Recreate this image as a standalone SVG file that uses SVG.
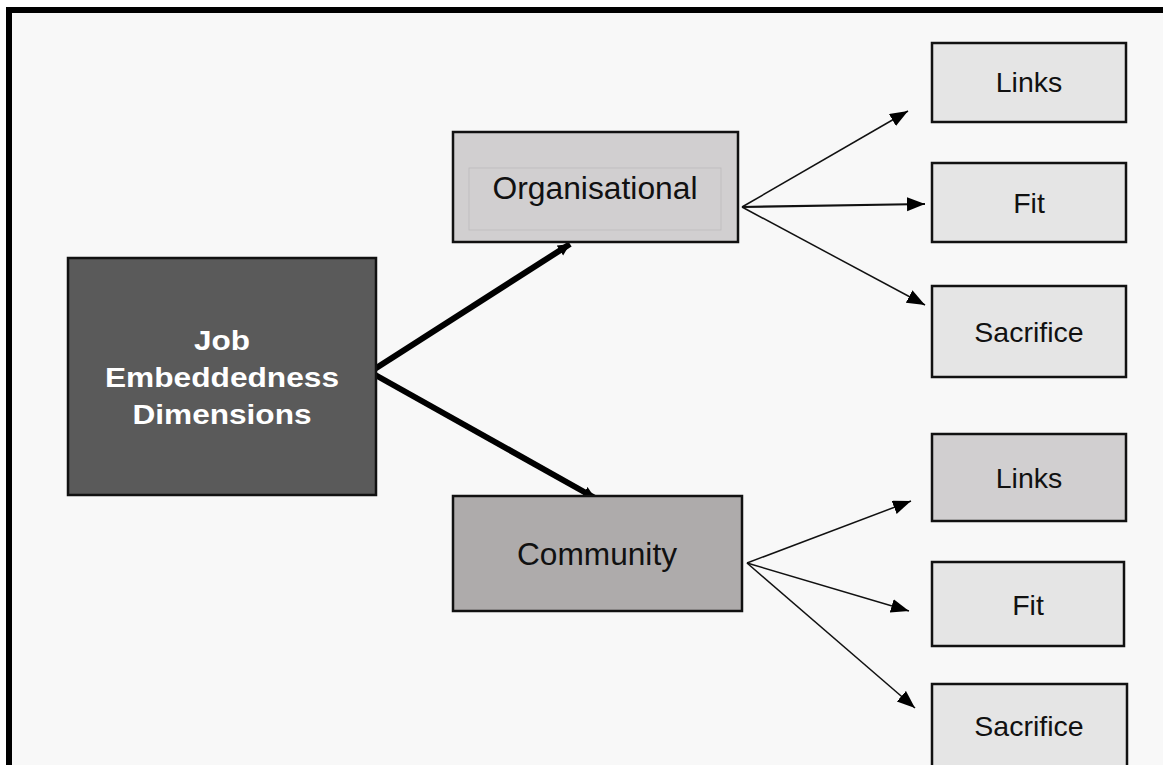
<svg xmlns="http://www.w3.org/2000/svg" width="1163" height="765" viewBox="0 0 1163 765">
<style>
.box{stroke:#111;stroke-width:2.5}
.lbl{font-family:"Liberation Sans",Arial,sans-serif;fill:#111;text-anchor:middle}
.thin{stroke:#111;stroke-width:1.5;fill:none}
.thick{stroke:#000;stroke-width:6;fill:none}
</style>
<defs>
<marker id="ah" markerUnits="userSpaceOnUse" markerWidth="20" markerHeight="16" refX="18" refY="7" orient="auto">
<path d="M0,0 L18,7 L0,14 Z" fill="#000"/>
</marker>
<marker id="ahb" markerUnits="userSpaceOnUse" markerWidth="14" markerHeight="14" refX="12" refY="6" orient="auto">
<path d="M0,0 L12,6 L0,12 Z" fill="#000"/>
</marker>
</defs>
<rect x="0" y="0" width="1163" height="765" fill="#ffffff"/>
<rect x="9" y="10" width="1170" height="770" fill="#f8f8f8" stroke="#000" stroke-width="6"/>

<g id="connectors">
<line class="thick" x1="370" y1="372" x2="570" y2="244" marker-end="url(#ahb)"/>
<line class="thick" x1="370" y1="372" x2="595" y2="498" marker-end="url(#ahb)"/>
<line class="thin" x1="742" y1="207" x2="908" y2="111" marker-end="url(#ah)"/>
<line class="thin" x1="742" y1="207" x2="925" y2="204" marker-end="url(#ah)" style="stroke-width:2.2"/>
<line class="thin" x1="742" y1="207" x2="925" y2="305" marker-end="url(#ah)"/>
<line class="thin" x1="747" y1="563" x2="911" y2="501" marker-end="url(#ah)"/>
<line class="thin" x1="747" y1="563" x2="909" y2="611" marker-end="url(#ah)"/>
<line class="thin" x1="747" y1="563" x2="915" y2="708" marker-end="url(#ah)"/>
</g>

<g id="job-embeddedness">
<rect class="box" x="68" y="258" width="308" height="237" fill="#5a5a5a"/>
<text class="lbl" x="222" y="350" font-size="28" font-weight="bold" style="fill:#fff" textLength="56" lengthAdjust="spacingAndGlyphs">Job</text>
<text class="lbl" x="222" y="387" font-size="28" font-weight="bold" style="fill:#fff" textLength="234" lengthAdjust="spacingAndGlyphs">Embeddedness</text>
<text class="lbl" x="222" y="424" font-size="28" font-weight="bold" style="fill:#fff" textLength="179" lengthAdjust="spacingAndGlyphs">Dimensions</text>
</g>

<g id="organisational">
<rect class="box" x="453" y="132" width="285" height="110" fill="#d1cfd0"/>
<rect x="469" y="168" width="252" height="62" fill="none" stroke="#bdbbbc" stroke-width="0.8"/>
<text class="lbl" x="595" y="199" font-size="31" textLength="205" lengthAdjust="spacingAndGlyphs">Organisational</text>
</g>

<g id="community">
<rect class="box" x="453" y="496" width="289" height="115" fill="#aeabab"/>
<text class="lbl" x="597" y="565" font-size="31" textLength="160" lengthAdjust="spacingAndGlyphs">Community</text>
</g>

<g id="org-links">
<rect class="box" x="932" y="43" width="194" height="79" fill="#e5e5e5"/>
<text class="lbl" x="1029" y="92" font-size="28.5">Links</text>
</g>
<g id="org-fit">
<rect class="box" x="932" y="163" width="194" height="79" fill="#e5e5e5"/>
<text class="lbl" x="1029" y="213" font-size="28.5">Fit</text>
</g>
<g id="org-sacrifice">
<rect class="box" x="932" y="286" width="194" height="91" fill="#e5e5e5"/>
<text class="lbl" x="1029" y="342" font-size="28.5">Sacrifice</text>
</g>

<g id="com-links">
<rect class="box" x="932" y="434" width="194" height="87" fill="#d1cfd0"/>
<text class="lbl" x="1029" y="488" font-size="28.5">Links</text>
</g>
<g id="com-fit">
<rect class="box" x="932" y="562" width="192" height="84" fill="#e5e5e5"/>
<text class="lbl" x="1028" y="615" font-size="28.5">Fit</text>
</g>
<g id="com-sacrifice">
<rect class="box" x="932" y="684" width="195" height="100" fill="#e5e5e5"/>
<text class="lbl" x="1029" y="736" font-size="28.5">Sacrifice</text>
</g>
</svg>
